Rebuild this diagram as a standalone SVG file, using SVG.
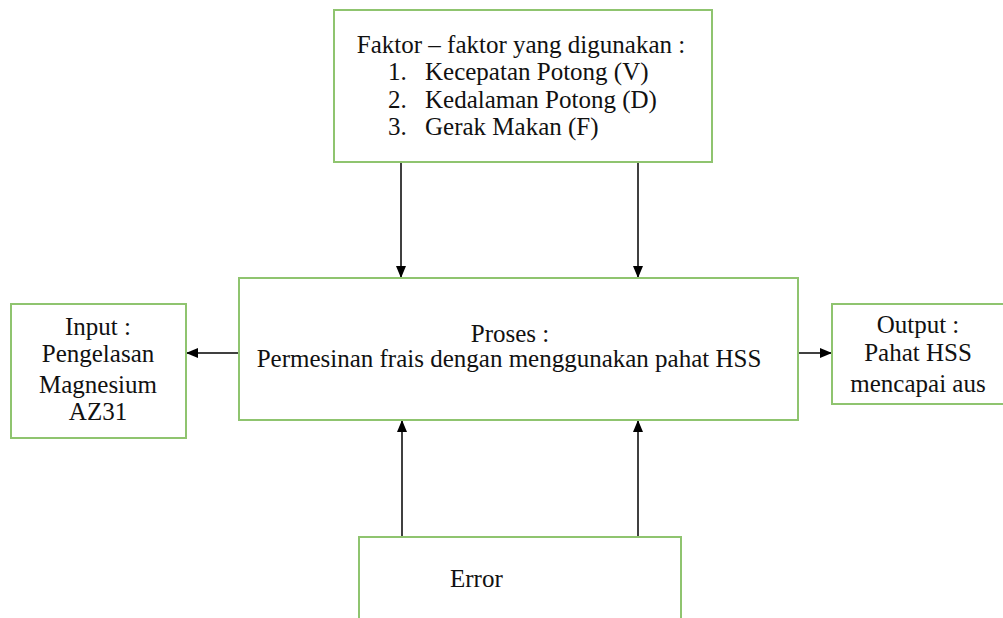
<svg xmlns="http://www.w3.org/2000/svg" width="1003" height="618" viewBox="0 0 1003 618">
<defs>
<marker id="ah" markerWidth="12" markerHeight="12" refX="11" refY="6" orient="auto" markerUnits="userSpaceOnUse">
<path d="M0,1 L12,6 L0,11 Z" fill="#000"/>
</marker>
<style>
.box{fill:#fff;stroke:#8fc46f;stroke-width:2}
.t{font-family:'Liberation Serif','DejaVu Serif','Times New Roman',serif;font-size:25px;fill:#111}
.m{text-anchor:middle}
.c{stroke:#000;stroke-width:1.5;fill:none;marker-end:url(#ah)}
</style>
</defs>
<rect width="1003" height="618" fill="#fff"/>
<g id="connectors">
<line class="c" x1="401" y1="163" x2="401" y2="277"/>
<line class="c" x1="638" y1="163" x2="638" y2="277"/>
<line class="c" x1="402" y1="537" x2="402" y2="421"/>
<line class="c" x1="638" y1="537" x2="638" y2="421"/>
<line class="c" x1="239" y1="353" x2="187" y2="353"/>
<line class="c" x1="798" y1="353" x2="831" y2="353"/>
</g>
<g id="factors">
<rect class="box" x="334" y="10" width="378" height="152"/>
<text class="t m" x="521" y="53">Faktor – faktor yang digunakan :</text>
<text class="t" x="388" y="80">1.</text><text class="t" x="425" y="80">Kecepatan Potong (V)</text>
<text class="t" x="388" y="108">2.</text><text class="t" x="425" y="108">Kedalaman Potong (D)</text>
<text class="t" x="388" y="135">3.</text><text class="t" x="425" y="135">Gerak Makan (F)</text>
</g>
<g id="process">
<rect class="box" x="239" y="278" width="559" height="142"/>
<text class="t m" x="510" y="342">Proses :</text>
<text class="t m" x="509" y="367">Permesinan frais dengan menggunakan pahat HSS</text>
</g>
<g id="input">
<rect class="box" x="11" y="304" width="175" height="134"/>
<text class="t m" x="98" y="335">Input :</text>
<text class="t m" x="98" y="362">Pengelasan</text>
<text class="t m" x="98" y="393">Magnesium</text>
<text class="t m" x="98" y="420">AZ31</text>
</g>
<g id="output">
<rect class="box" x="832" y="304" width="172" height="100"/>
<text class="t m" x="918" y="333">Output :</text>
<text class="t m" x="918" y="361">Pahat HSS</text>
<text class="t m" x="918" y="392">mencapai aus</text>
</g>
<g id="error">
<rect class="box" x="359" y="537" width="322" height="90"/>
<text class="t" x="450" y="587">Error</text>
</g>
</svg>
